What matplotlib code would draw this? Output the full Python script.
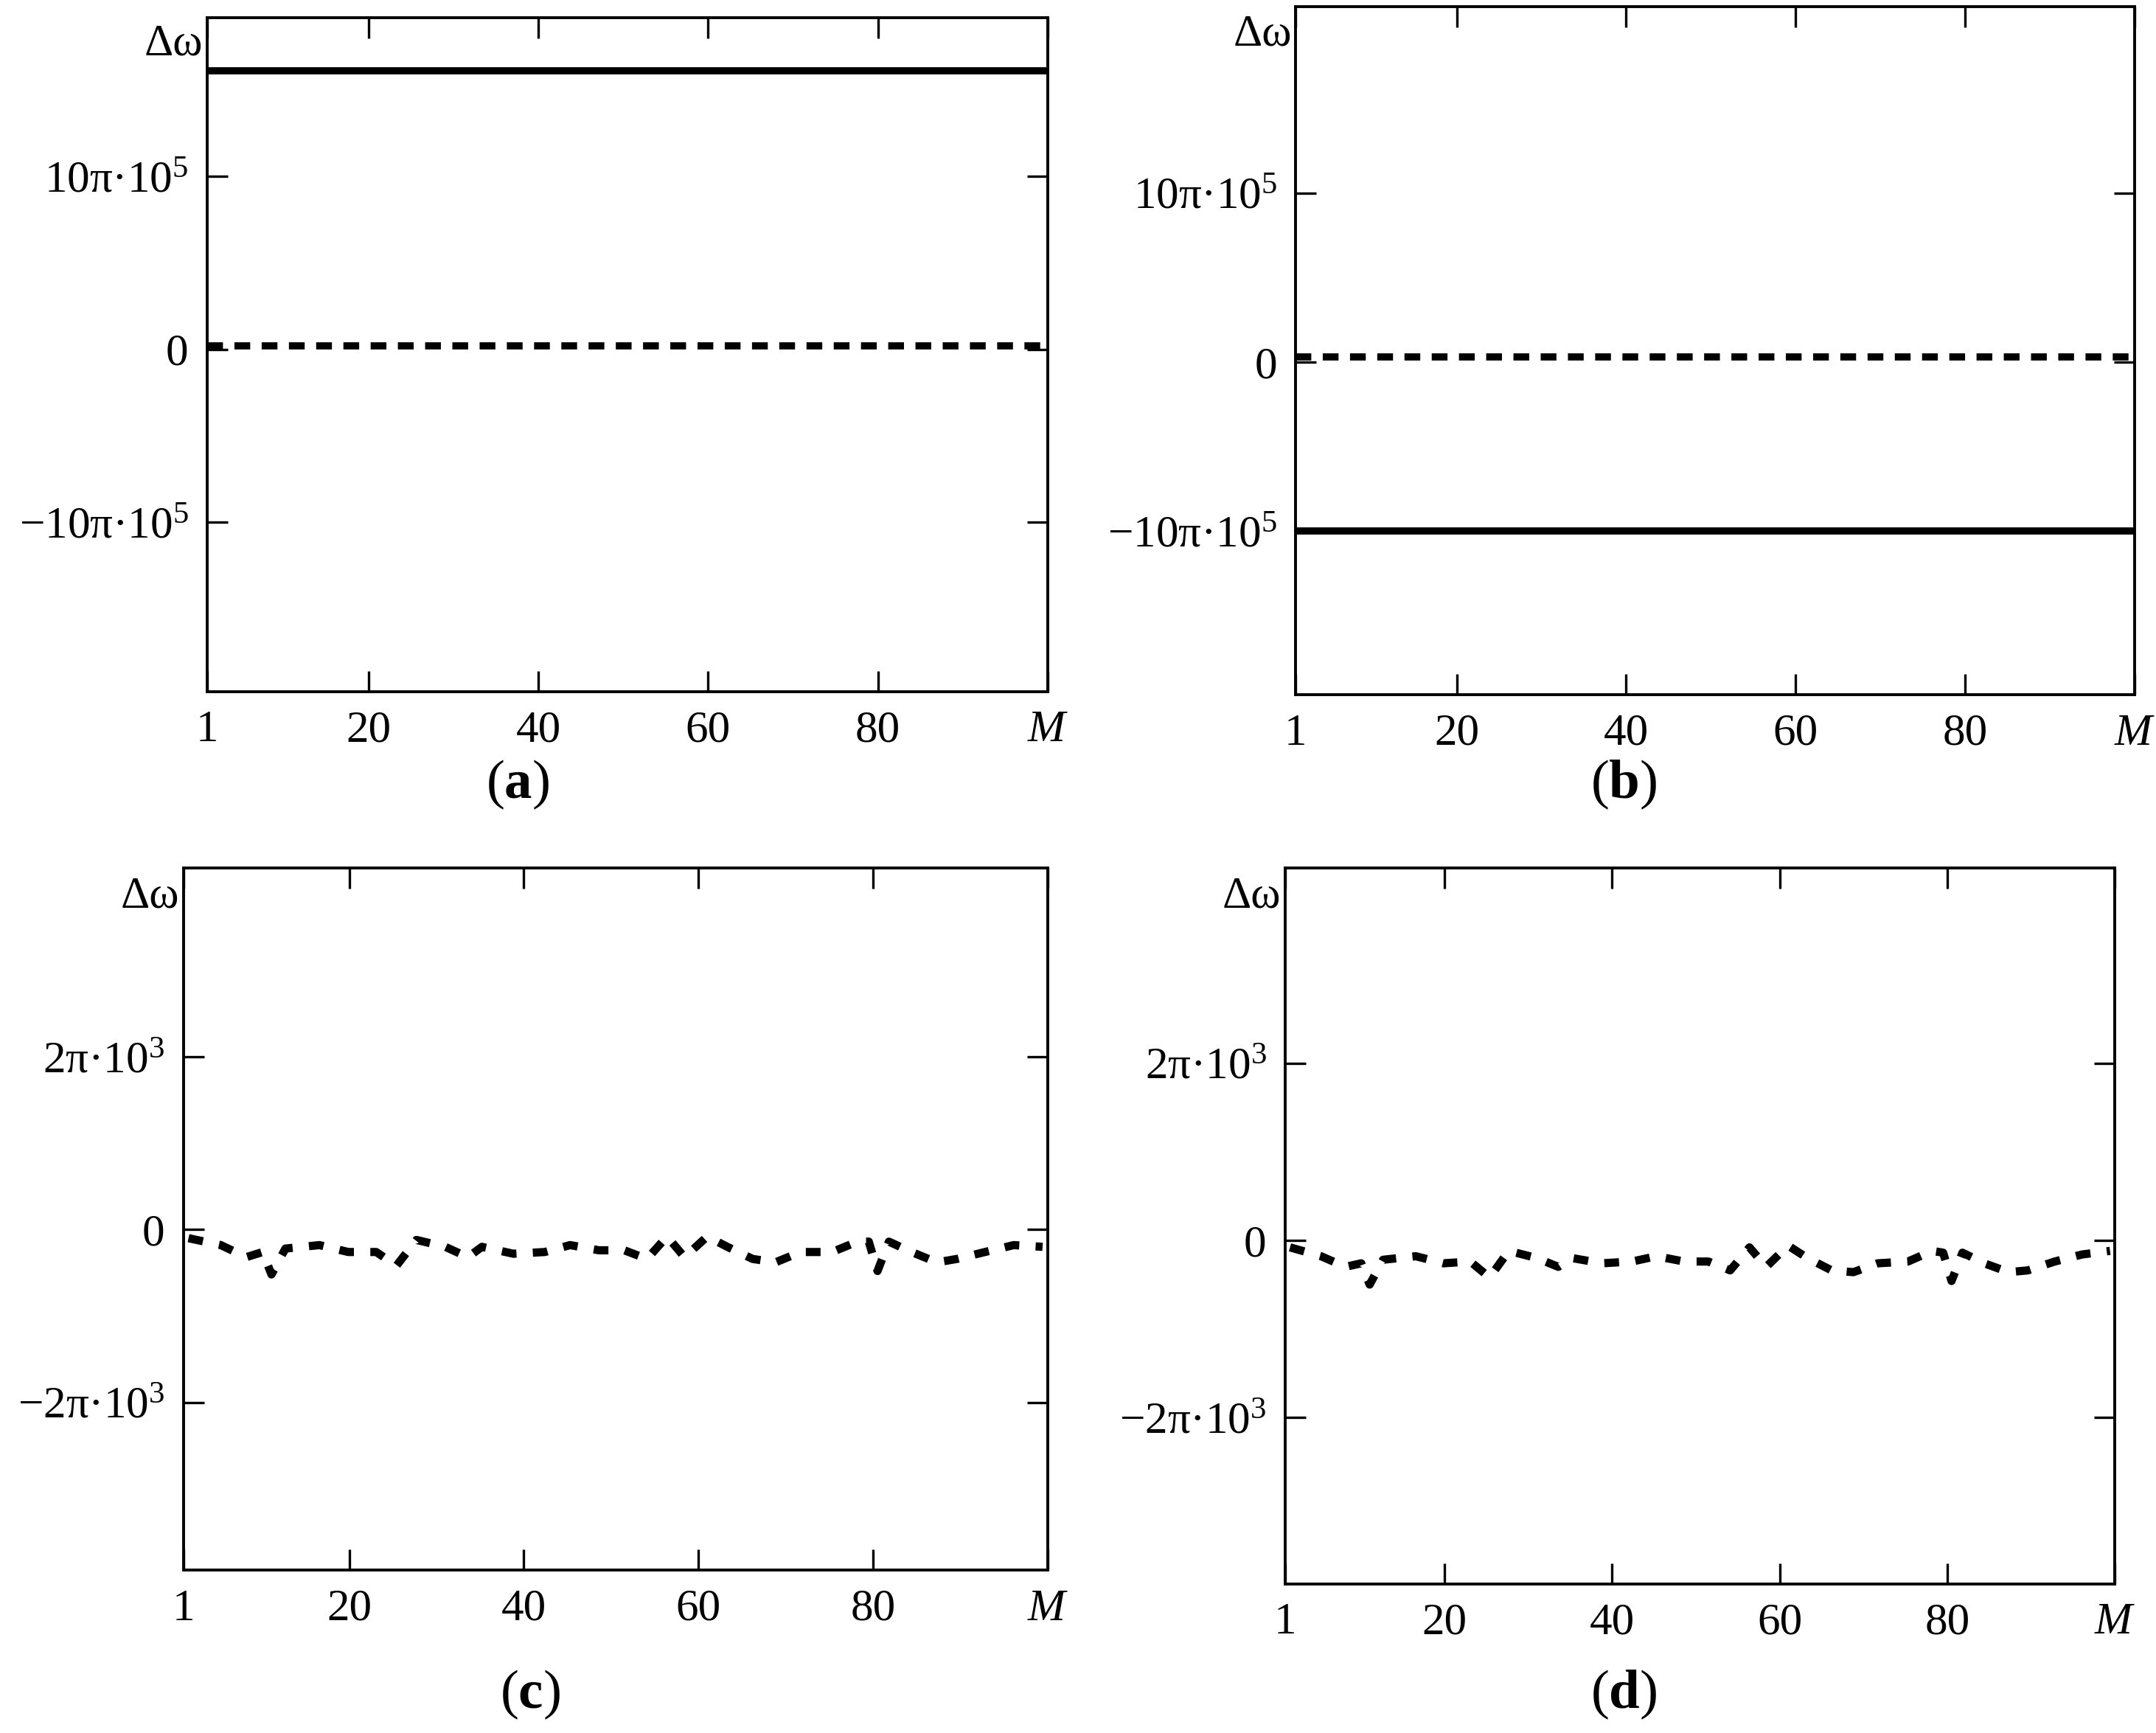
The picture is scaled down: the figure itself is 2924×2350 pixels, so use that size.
import matplotlib
matplotlib.use("Agg")
import matplotlib.pyplot as plt
import numpy as np

plt.rcParams.update({
    "font.family": "Liberation Serif", "font.size": 22,
    "mathtext.fontset": "custom", "mathtext.rm": "Liberation Serif",
    "mathtext.it": "Liberation Serif:italic", "mathtext.bf": "Liberation Serif:bold",
})

# units: (a),(b) in 10*pi*1e5 ; (c),(d) in 2*pi*1e3
UA = 10 * np.pi * 1e5
UC = 2 * np.pi * 1e3

m_flat = [1, 100]
a_solid = [1.61, 1.61]
a_dash = [0.02, 0.02]
b_solid = [-1.0, -1.0]
b_dash = [0.03, 0.03]

m_noise = [1.6, 5.3, 8.2, 10.1, 11.1, 12.7, 16.6, 19.9, 23.1, 25.4, 27.7, 31.0, 33.6, 35.2,
           38.8, 42.4, 45.3, 48.6, 51.5, 54.1, 56.4, 58.4, 61.0, 63.3, 66.2, 68.8, 71.7, 75.3,
           78.2, 79.5, 80.5, 81.8, 84.4, 87.3, 89.6, 92.8, 96.1, 99.4]
c_noise = [-0.05, -0.09, -0.16, -0.13, -0.26, -0.11, -0.09, -0.13, -0.13, -0.21, -0.06, -0.10,
           -0.16, -0.10, -0.14, -0.13, -0.09, -0.12, -0.12, -0.17, -0.04, -0.16, -0.04, -0.10,
           -0.17, -0.19, -0.13, -0.13, -0.07, -0.07, -0.24, -0.07, -0.13, -0.19, -0.17, -0.13,
           -0.09, -0.10]
d_noise = [-0.04, -0.09, -0.15, -0.13, -0.25, -0.11, -0.09, -0.13, -0.12, -0.21, -0.06, -0.10,
           -0.15, -0.10, -0.13, -0.12, -0.09, -0.12, -0.12, -0.17, -0.04, -0.15, -0.03, -0.10,
           -0.17, -0.18, -0.13, -0.12, -0.06, -0.07, -0.23, -0.07, -0.13, -0.18, -0.17, -0.12,
           -0.08, -0.06]

xticks = [1, 20, 40, 60, 80, 100]
xlabels = ["1", "20", "40", "60", "80", r"$\mathit{M}$"]

fig = plt.figure(figsize=(14.62, 11.75), dpi=200)


def setup(ax, ylim, yt, ylab, unit):
    ax.set_xlim(1, 100)
    ax.set_ylim(ylim[0] * unit, ylim[1] * unit)
    ax.set_xticks(xticks)
    ax.set_xticklabels(xlabels)
    ax.set_yticks([v * unit for v in yt])
    ax.set_yticklabels(ylab)
    ax.tick_params(direction="in", length=10, width=1.2, top=True, right=True, pad=9)
    for s in ax.spines.values():
        s.set_linewidth(1.4)
    ax.text(-0.005, 0.96, "Δω", transform=ax.transAxes, ha="right", va="center", fontsize=22)


ax = fig.add_axes([0.096, 0.601, 0.390, 0.389])
ax.plot(m_flat, np.array(a_solid) * UA, color="black", lw=3.5)
ax.plot(m_flat, np.array(a_dash) * UA, color="black", lw=3.5, ls=(0, (2.2, 1.6)))
setup(ax, (-1.98, 1.92), [1, 0, -1], [r"10π·10$^5$", "0", r"−10π·10$^5$"], UA)

ax = fig.add_axes([0.601, 0.599, 0.389, 0.397])
ax.plot(m_flat, np.array(b_solid) * UA, color="black", lw=3.5)
ax.plot(m_flat, np.array(b_dash) * UA, color="black", lw=3.5, ls=(0, (2.2, 1.6)))
setup(ax, (-1.97, 2.1), [1, 0, -1], [r"10π·10$^5$", "0", r"−10π·10$^5$"], UA)

ax = fig.add_axes([0.085, 0.094, 0.401, 0.405])
ax.plot(m_noise, np.array(c_noise) * UC, color="black", lw=4, ls=(0, (1.8, 2.0)))
setup(ax, (-1.97, 2.09), [1, 0, -1], [r"2π·10$^3$", "0", r"−2π·10$^3$"], UC)

ax = fig.add_axes([0.596, 0.086, 0.385, 0.413])
ax.plot(m_noise, np.array(d_noise) * UC, color="black", lw=4, ls=(0, (1.8, 2.0)))
setup(ax, (-1.94, 2.1), [1, 0, -1], [r"2π·10$^3$", "0", r"−2π·10$^3$"], UC)

for x, y, l in [(0.240, 0.547, "a"), (0.753, 0.547, "b"), (0.246, 0.022, "c"), (0.753, 0.022, "d")]:
    fig.text(x, y, r"($\mathbf{%s}$)" % l, ha="center", va="center", fontsize=27)

fig.savefig("out.png", dpi=200)
